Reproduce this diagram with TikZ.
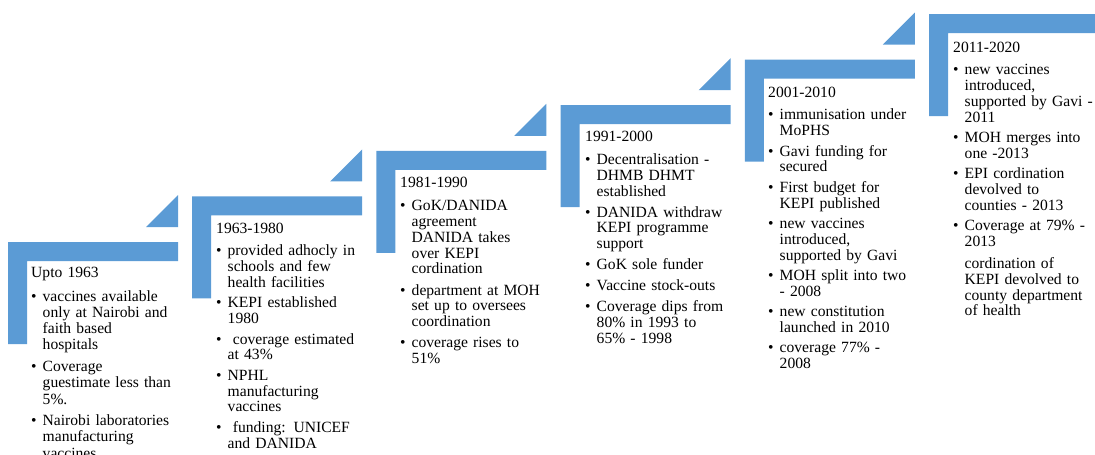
\documentclass[tikz,border=0pt]{standalone}
\usepackage{fontspec}
\setmainfont{Liberation Serif}
\definecolor{stepblue}{HTML}{5B9BD5}

% text of a step: title line, bulleted items, plain paragraph
\newcommand{\nl}{\newline}
\newcommand{\itemgap}{4.6pt}
\newcommand{\steptitle}[1]{\noindent #1\par\vspace{2pt}}
\newcommand{\bul}[1]{\par\vspace{\itemgap}\hangindent=11.5pt\hangafter=1\noindent\makebox[11.5pt][l]{\textbullet}#1\par}
\newcommand{\plainpara}[1]{\par\vspace{6pt}\hangindent=11.5pt\hangafter=0\noindent #1\par}

% L-shaped step with its corner triangle: left x, top y, right x
\newcommand{\stepshape}[3]{%
  \fill[stepblue] (#1,#2) -- (#3,#2) -- (#3,#2+19) -- (#1+19,#2+19)
    -- (#1+19,#2+102) -- (#1,#2+102) -- cycle;}
\newcommand{\steptri}[2]{%
  \fill[stepblue] (#1-32,#2-15) -- (#1,#2-47) -- (#1,#2-15) -- cycle;}

\tikzset{
  steptext/.style={anchor=north west, inner sep=0pt, text width=175pt,
    font=\fontsize{15.6pt}{15.8pt}\selectfont, text=black},
  loosetext/.style={steptext, font=\fontsize{15.6pt}{16.3pt}\selectfont}
}

\begin{document}
\begin{tikzpicture}[x=1pt,y=-1pt]
\useasboundingbox (0,0) rectangle (1095,455);
\clip (0,0) rectangle (1095,455);

% steps rising to the right
\stepshape{8}{242}{178}      \steptri{178}{242}
\stepshape{192.2}{196.4}{362.2} \steptri{362.2}{196.4}
\stepshape{376.4}{150.8}{546.4} \steptri{546.4}{150.8}
\stepshape{560.6}{105.2}{730.6} \steptri{730.6}{105.2}
\stepshape{744.8}{59.6}{914.8}  \steptri{914.8}{59.6}
\stepshape{929}{14}{1100}

\node[loosetext] (s1) at (31,267) {\raggedright\renewcommand{\itemgap}{5.2pt}%
  \steptitle{Upto 1963}
  \bul{vaccines available\nl only at Nairobi and\nl faith based\nl hospitals}
  \bul{Coverage\nl guestimate less than\nl 5\%.}
  \bul{Nairobi laboratories\nl manufacturing\nl vaccines}};

\node[steptext] (s2) at (216,223) {\raggedright
  \steptitle{1963-1980}
  \bul{provided adhocly in\nl schools and few\nl health facilities}
  \bul{KEPI established\nl 1980}
  \bul{\ coverage estimated\nl at 43\%}
  \bul{NPHL\nl manufacturing\nl vaccines}
  \bul{\ funding: UNICEF\nl and DANIDA}};

\node[steptext] (s3) at (400,177) {\raggedright\renewcommand{\itemgap}{5.4pt}%
  \steptitle{1981-1990}
  \bul{GoK/DANIDA\nl agreement\nl DANIDA takes\nl over KEPI\nl cordination}
  \bul{department at MOH\nl set up to oversees\nl coordination}
  \bul{coverage rises to\nl 51\%}};

\node[steptext] (s4) at (585,131) {\raggedright\renewcommand{\itemgap}{5.2pt}%
  \steptitle{1991-2000}
  \bul{Decentralisation -\nl DHMB DHMT\nl established}
  \bul{DANIDA withdraw\nl KEPI programme\nl support}
  \bul{GoK sole funder}
  \bul{Vaccine stock-outs}
  \bul{Coverage dips from\nl 80\% in 1993 to\nl 65\% - 1998}};

\node[steptext] (s5) at (768,87) {\raggedright
  \steptitle{2001-2010}
  \bul{immunisation under\nl MoPHS}
  \bul{Gavi funding for\nl secured}
  \bul{First budget for\nl KEPI published}
  \bul{new vaccines\nl introduced,\nl supported by Gavi}
  \bul{MOH split into two\nl - 2008}
  \bul{new constitution\nl launched in 2010}
  \bul{coverage 77\% -\nl 2008}};

\node[steptext] (s6) at (953,42) {\raggedright
  \steptitle{2011-2020}
  \bul{new vaccines\nl introduced,\nl supported by Gavi -\nl 2011}
  \bul{MOH merges into\nl one -2013}
  \bul{EPI cordination\nl devolved to\nl counties - 2013}
  \bul{Coverage at 79\% -\nl 2013}
  \plainpara{cordination of\nl KEPI devolved to\nl county department\nl of health}};
\end{tikzpicture}
\end{document}
